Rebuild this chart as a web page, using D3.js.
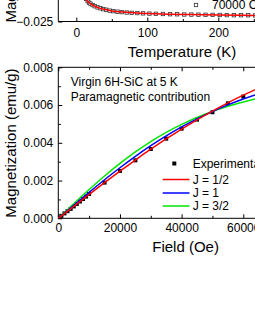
<!DOCTYPE html>
<html><head><meta charset="utf-8">
<script src="https://cdn.jsdelivr.net/npm/d3@7"></script>
<style>
body{margin:0;background:#fff}
svg{display:block}
text{font-family:"Liberation Sans",Arial,Helvetica,sans-serif;fill:#000}
</style>
</head><body>
<svg id="c" width="255" height="330"></svg>
<script>
// ---------- DATA ----------
// Top panel: M(T) at 70000 Oe
const tempPointsK = [12,14,16,18,20,23,26,30,34,38,42,47,52,58,64,71,78,86,94,103,112,122,132,142,152,162,172,182,192,202,212,222,232,242,252,262];
const tempPointsM = [-0.02171,-0.02204,-0.02233,-0.02253,-0.02266,-0.02284,-0.02299,-0.02314,-0.02326,-0.02337,-0.02345,-0.02357,-0.02364,-0.02371,-0.02376,-0.02382,-0.02386,-0.02389,-0.02393,-0.02396,-0.02399,-0.02401,-0.02404,-0.02405,-0.02408,-0.02409,-0.02410,-0.02412,-0.02413,-0.02414,-0.02416,-0.02417,-0.02417,-0.02418,-0.02420,-0.02421];
const tempFitK = [8,10,12,15,18,22,26,31,36,41,50,60,75,90,110,130,160,200,250,300];
const tempFitM = [-0.02053,-0.02118,-0.02171,-0.02224,-0.02253,-0.02279,-0.02299,-0.02317,-0.02332,-0.02343,-0.02361,-0.02372,-0.02383,-0.02391,-0.02399,-0.02404,-0.02409,-0.02414,-0.02420,-0.02424];
const tempTicks = [0,100,200];
const tempMinorTicks = [50,150,250];
const topYTicks = [-0.025];

// Bottom panel: M(H) at 5 K
const fieldExp = [0,1000,2000,3000,4000,5000,6000,7000,8000,9000,10000,15000,20000,25000,30000,35000,40000,45000,50000,55000,60000];
const magExp = [0,0.00013,0.00026,0.00038,0.00050,0.00063,0.00076,0.00089,0.00102,0.00115,0.00129,0.00189,0.00251,0.00307,0.00367,0.00422,0.00475,0.00523,0.00562,0.00609,0.00645];
const fieldFit = [0,5000,10000,15000,20000,25000,30000,35000,40000,45000,50000,55000,60000,65000,70000];
const magJhalf = [0,0.000636,0.001267,0.00189,0.002497,0.003087,0.003659,0.004204,0.004725,0.005219,0.005683,0.006118,0.006522,0.00690,0.00725];
const magJone = [0,0.000694,0.001376,0.002043,0.002679,0.003283,0.003844,0.004363,0.004839,0.005271,0.00566,0.006007,0.006317,0.006592,0.006834];
const magJthreehalf = [0,0.000772,0.001523,0.002242,0.002908,0.003519,0.004066,0.00455,0.004974,0.005343,0.00566,0.005933,0.006166,0.006367,0.006538];
const fieldTicks = [0,20000,40000,60000];
const fieldMinorTicks = [10000,30000,50000,70000];
const magTicks = [0,0.002,0.004,0.006,0.008];
const magMinorTicks = [0.001,0.003,0.005,0.007];
const seriesNames = ["Experimental","J = 1/2","J = 1","J = 3/2"];
const seriesColors = ["#000000","#ff0000","#0000ff","#00e600"];

// ---------- CHART ----------
const svg = d3.select("#c");
svg.append("rect").attr("width",255).attr("height",330).attr("fill","#fff");

const L = 58.3;
// ===== top panel =====
const xT = d3.scaleLinear().domain([-25.35, 325]).range([L, 76.3 + 0.71*325]);
const yT = d3.scaleLinear().domain([-0.025, -0.020]).range([21.5, -16.5]);
const gT = svg.append("g");

gT.selectAll("rect.pt").data(tempPointsK.map((t,i)=>[t,tempPointsM[i]])).join("rect")
  .attr("x",d=>xT(d[0])-1.7).attr("y",d=>yT(d[1])-1.7).attr("width",3.4).attr("height",3.4)
  .attr("fill","#fff").attr("stroke","#333").attr("stroke-width",0.8);
gT.append("path").datum(tempFitK.map((t,i)=>[t,tempFitM[i]]))
  .attr("fill","none").attr("stroke","#ff0000").attr("stroke-width",1.5)
  .attr("d", d3.line().x(d=>xT(d[0])).y(d=>yT(d[1])).curve(d3.curveMonotoneX));

gT.append("g").attr("transform",`translate(0,${yT(-0.025)})`)
  .call(d3.axisBottom(xT).tickValues(tempTicks).tickFormat(d3.format("d")).tickSizeInner(-4).tickSizeOuter(0).tickPadding(7));
gT.append("g").attr("transform",`translate(0,${yT(-0.025)})`)
  .call(d3.axisBottom(xT).tickValues(tempMinorTicks).tickFormat("").tickSizeInner(-2.5).tickSizeOuter(0));
gT.append("g").attr("transform",`translate(${L},0)`)
  .call(d3.axisLeft(yT).tickValues(topYTicks).tickFormat(d3.format(".3f")).tickSizeInner(-4).tickSizeOuter(0).tickPadding(5));
gT.selectAll(".domain").remove();
gT.append("path").attr("d",`M${L},-5V${yT(-0.025)}H300`).attr("fill","none").attr("stroke","#000").attr("stroke-width",1);
gT.selectAll(".tick line").attr("stroke","#000");
gT.selectAll(".tick text").style("font-size","12px").attr("fill","#000");

gT.append("rect").attr("x",194.3).attr("y",3.3).attr("width",3.4).attr("height",3.4)
  .attr("fill","#fff").attr("stroke","#333").attr("stroke-width",0.8);
gT.append("text").attr("x",212).attr("y",9).style("font-size","12px").text("70000 Oe");

gT.append("text").attr("x",182).attr("y",57).attr("text-anchor","middle").style("font-size","15px").text("Temperature (K)");
gT.append("text").attr("transform","translate(16,22.5) rotate(-90)").attr("text-anchor","start").style("font-size","15px").text("Magnetization (emu/g)");

// ===== bottom panel =====
const xB = d3.scaleLinear().domain([0, 80000]).range([L, L + 80000*0.003083]);
const yB = d3.scaleLinear().domain([0, 0.008]).range([218.3, 67.3]);
const gB = svg.append("g");

gB.append("defs").append("clipPath").attr("id","clipB").append("rect")
  .attr("x",L).attr("y",yB(0.008)).attr("width",xB(80000)-L).attr("height",yB(0)-yB(0.008));

gB.append("g").attr("transform",`translate(0,${yB(0)})`)
  .call(d3.axisBottom(xB).tickValues(fieldTicks).tickFormat(d3.format("d")).tickSizeInner(-4).tickSizeOuter(0).tickPadding(5));
gB.append("g").attr("transform",`translate(0,${yB(0)})`)
  .call(d3.axisBottom(xB).tickValues(fieldMinorTicks).tickFormat("").tickSizeInner(-2.5).tickSizeOuter(0));
gB.append("g").attr("transform",`translate(0,${yB(0.008)})`)
  .call(d3.axisTop(xB).tickValues(fieldTicks).tickFormat("").tickSizeInner(-4).tickSizeOuter(0));
gB.append("g").attr("transform",`translate(0,${yB(0.008)})`)
  .call(d3.axisTop(xB).tickValues(fieldMinorTicks).tickFormat("").tickSizeInner(-2.5).tickSizeOuter(0));
gB.append("g").attr("transform",`translate(${L},0)`)
  .call(d3.axisLeft(yB).tickValues(magTicks).tickFormat(d3.format(".3f")).tickSizeInner(-4).tickSizeOuter(0).tickPadding(5));
gB.append("g").attr("transform",`translate(${L},0)`)
  .call(d3.axisLeft(yB).tickValues(magMinorTicks).tickFormat("").tickSizeInner(-2.5).tickSizeOuter(0));
gB.selectAll(".domain").remove();
gB.append("rect").attr("x",L).attr("y",yB(0.008)).attr("width",xB(80000)-L).attr("height",yB(0)-yB(0.008))
  .attr("fill","none").attr("stroke","#000").attr("stroke-width",1);
gB.selectAll(".tick line").attr("stroke","#000");
gB.selectAll(".tick text").style("font-size","12px").attr("fill","#000");

const plot = gB.append("g").attr("clip-path","url(#clipB)");
plot.selectAll("rect.exp").data(fieldExp.map((h,i)=>[h,magExp[i]])).join("rect")
  .attr("x",d=>xB(d[0])-2).attr("y",d=>yB(d[1])-2).attr("width",4).attr("height",4).attr("fill","#000");
const lineB = d3.line().x(d=>xB(d[0])).y(d=>yB(d[1])).curve(d3.curveMonotoneX);
[[magJthreehalf,seriesColors[3]],[magJone,seriesColors[2]],[magJhalf,seriesColors[1]]].forEach(([arr,col])=>{
  plot.append("path").datum(fieldFit.map((h,i)=>[h,arr[i]]))
    .attr("fill","none").attr("stroke",col).attr("stroke-width",1.5).attr("d",lineB);
});

gB.append("text").attr("x",70.7).attr("y",86.3).style("font-size","12px").text("Virgin 6H-SiC at 5 K");
gB.append("text").attr("x",70.7).attr("y",101.3).style("font-size","12px").text("Paramagnetic contribution");

const legY = [163.5,179.5,193,206];
seriesNames.forEach((name,i)=>{
  if(i===0){
    gB.append("rect").attr("x",172.3).attr("y",legY[i]-2).attr("width",4).attr("height",4).attr("fill","#000");
  } else {
    gB.append("line").attr("x1",162.7).attr("x2",189.5).attr("y1",legY[i]).attr("y2",legY[i])
      .attr("stroke",seriesColors[i]).attr("stroke-width",1.5);
  }
  gB.append("text").attr("x",192.7).attr("y",legY[i]+4.3).style("font-size","12px").text(name);
});

gB.append("text").attr("x",185.6).attr("y",252).attr("text-anchor","middle").style("font-size","15px").text("Field (Oe)");
gB.append("text").attr("transform","translate(16,143) rotate(-90)").attr("text-anchor","middle").style("font-size","15px").text("Magnetization (emu/g)");
</script>
</body></html>
